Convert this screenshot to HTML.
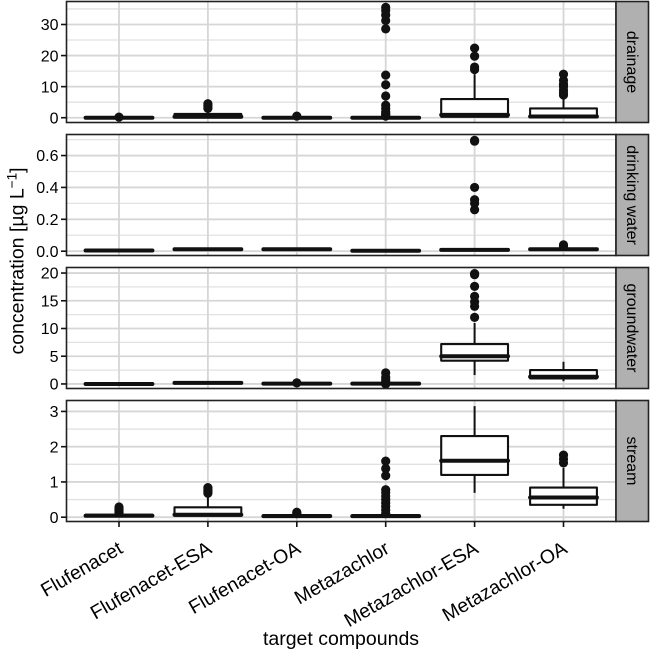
<!DOCTYPE html>
<html lang="en">
<head>
<meta charset="utf-8">
<title>Concentration of target compounds by water type</title>
<style>
html,body{margin:0;padding:0;background:#fff;width:650px;height:650px;overflow:hidden}
svg{display:block;font-family:"Liberation Sans",Arial,sans-serif;filter:blur(0.3px)}
</style>
</head>
<body>
<svg id="chart" xmlns="http://www.w3.org/2000/svg" width="650" height="650" viewBox="0 0 650 650">
<rect x="0" y="0" width="650" height="650" fill="#ffffff"/>
<text transform="translate(23.5,261) rotate(-90)" text-anchor="middle" font-size="19.5" fill="#000">concentration [µg L<tspan font-size="13.5" dy="-7">−1</tspan><tspan dy="7">]</tspan></text>
<text x="341" y="645" text-anchor="middle" font-size="19.5" fill="#000">target compounds</text>
</svg>
<script>
const categories = ["Flufenacet","Flufenacet-ESA","Flufenacet-OA","Metazachlor","Metazachlor-ESA","Metazachlor-OA"];
const facetNames = ["drainage","drinking water","groundwater","stream"];

const drainageTicks = [0,10,20,30];
const drainageMinor = [5,15,25,35];
const drainageLower = [0,0,0,0,0.1,0];
const drainageQ1 = [0,0.05,0,0,0.3,0.15];
const drainageMedian = [0,0.3,0,0,0.9,0.4];
const drainageQ3 = [0.05,1.2,0.05,0.1,6,3];
const drainageUpper = [0.1,2.5,0.1,0.2,14,7];
const drainageOutliers = [[0.2],[3,3.5,4,4.5],[0.5],[0.5,1,1.5,2,3,4,7,10.6,13.7,28.6,31.3,33,34.5,35.5],[15.5,16.3,19.8,22.4],[7.3,8,8.9,10,10.8,12,14],[]];

const drinkingTicks = [0,0.2,0.4,0.6];
const drinkingMinor = [0.1,0.3,0.5,0.7];
const drinkingLower = [0.002,0.01,0.01,0.002,0.005,0.01];
const drinkingQ1 = [0.002,0.01,0.01,0.002,0.005,0.01];
const drinkingMedian = [0.004,0.012,0.012,0.003,0.008,0.012];
const drinkingQ3 = [0.005,0.014,0.014,0.004,0.011,0.014];
const drinkingUpper = [0.006,0.015,0.015,0.005,0.012,0.015];
const drinkingOutliers = [[],[],[],[],[0.26,0.3,0.323,0.4,0.69,0.695],[0.03,0.04]];

const groundwaterTicks = [0,5,10,15,20];
const groundwaterMinor = [2.5,7.5,12.5,17.5];
const groundwaterLower = [0,0.1,0,0,1.6,0.5];
const groundwaterQ1 = [0,0.12,0,0,4.2,1];
const groundwaterMedian = [0,0.2,0.05,0.05,5,1.3];
const groundwaterQ3 = [0.05,0.25,0.12,0.1,7.2,2.5];
const groundwaterUpper = [0.1,0.3,0.15,0.2,11,4];
const groundwaterOutliers = [[],[],[0.2],[0,0.4,0.8,1.2,2],[12,14,14.8,15.8,17.6,19.7,19.9],[]];

const streamTicks = [0,1,2,3];
const streamMinor = [0.5,1.5,2.5];
const streamLower = [0,0.02,0,0,0.69,0.24];
const streamQ1 = [0.02,0.04,0.01,0.01,1.2,0.35];
const streamMedian = [0.04,0.07,0.03,0.03,1.6,0.56];
const streamQ3 = [0.07,0.28,0.06,0.06,2.3,0.84];
const streamUpper = [0.1,0.6,0.08,0.1,3.15,1.4];
const streamOutliers = [[0.13,0.17,0.21,0.25,0.29],[0.68,0.72,0.76,0.8,0.84],[0.1,0.14],[0.1,0.2,0.3,0.4,0.5,0.6,0.7,0.78,1.18,1.38,1.59],[],[1.54,1.65,1.76]];

const facetTicks = [drainageTicks,drinkingTicks,groundwaterTicks,streamTicks];
const facetMinor = [drainageMinor,drinkingMinor,groundwaterMinor,streamMinor];
const facetLower = [drainageLower,drinkingLower,groundwaterLower,streamLower];
const facetQ1 = [drainageQ1,drinkingQ1,groundwaterQ1,streamQ1];
const facetMedian = [drainageMedian,drinkingMedian,groundwaterMedian,streamMedian];
const facetQ3 = [drainageQ3,drinkingQ3,groundwaterQ3,streamQ3];
const facetUpper = [drainageUpper,drinkingUpper,groundwaterUpper,streamUpper];
const facetOutliers = [drainageOutliers,drinkingOutliers,groundwaterOutliers,streamOutliers];
const facetTickDecimals = [0,1,0,0];
const facetDomainMin = [-1.54,-0.027,-0.82,-0.122];
const facetDomainMax = [37.4,0.732,21.0,3.31];

const svgNS = "http://www.w3.org/2000/svg";
const svg = document.getElementById("chart");
const plotLeft = 66.5, plotRight = 616, stripRight = 648.5;
const panelTop = [1.5,134.5,267.5,400.5];
const panelBottom = [122.5,255.5,388.5,521.5];
const firstCategoryX = 119, categoryStep = 88.9, boxHalfWidth = 33.4;

function xScale(i){ return firstCategoryX + i * categoryStep; }
function yScale(p, v){
  const t = (v - facetDomainMin[p]) / (facetDomainMax[p] - facetDomainMin[p]);
  return panelBottom[p] - t * (panelBottom[p] - panelTop[p]);
}
function make(tag, attrs, parent){
  const el = document.createElementNS(svgNS, tag);
  for (const k in attrs) el.setAttribute(k, attrs[k]);
  (parent || svg).appendChild(el);
  return el;
}
function slug(s){ return s.toLowerCase().replace(/[^a-z0-9]+/g, "-"); }

facetNames.forEach(function(name, p){
  const top = panelTop[p], bottom = panelBottom[p];
  const g = make("g", {});
  
  

  facetMinor[p].forEach(function(v){
    if (v > facetDomainMax[p]) return;
    const y = yScale(p, v);
    const l = make("line", {x1:plotLeft,x2:plotRight,y1:y,y2:y,stroke:"#e2e2e2","stroke-width":1.3}, g);
    
    
  });
  facetTicks[p].forEach(function(v){
    const y = yScale(p, v);
    const l = make("line", {x1:plotLeft,x2:plotRight,y1:y,y2:y,stroke:"#d6d6d6","stroke-width":1.8}, g);
    
    
  });
  categories.forEach(function(c, i){
    const x = xScale(i);
    const l = make("line", {x1:x,x2:x,y1:top,y2:bottom,stroke:"#d6d6d6","stroke-width":1.8}, g);
    
    
  });

  categories.forEach(function(c, i){
    const x = xScale(i);
    const id = slug(name) + '-' + slug(c);
    const w = make("line", {x1:x,x2:x,y1:yScale(p, facetUpper[p][i]),y2:yScale(p, facetLower[p][i]),stroke:"#111","stroke-width":2}, g);
    
    

    const yQ3 = yScale(p, facetQ3[p][i]), yQ1 = yScale(p, facetQ1[p][i]);
    const b = make("rect", {x:x-boxHalfWidth,y:yQ3,width:boxHalfWidth*2,height:Math.max(yQ1-yQ3,0.1),fill:"#fff",stroke:"#111","stroke-width":2.1,"stroke-linejoin":"round"}, g);
    
    

    const ym = yScale(p, facetMedian[p][i]);
    const m = make("line", {x1:x-boxHalfWidth,x2:x+boxHalfWidth,y1:ym,y2:ym,stroke:"#111","stroke-width":4,"stroke-linecap":"round"}, g);
    
    

    (facetOutliers[p][i] || []).forEach(function(v){
      const o = make("circle", {cx:x,cy:yScale(p, v),r:4.6,fill:"#111"}, g);
      
      
    });
  });

  const border = make("rect", {x:plotLeft,y:top,width:plotRight-plotLeft,height:bottom-top,fill:"none",stroke:"#222","stroke-width":1.6}, g);
  
  

  const strip = make("rect", {x:plotRight,y:top,width:stripRight-plotRight,height:bottom-top,fill:"#b0b0b0",stroke:"#222","stroke-width":1.6}, g);
  
  

  const cy = (top + bottom) / 2, sx = (plotRight + stripRight) / 2;
  const st = make("text", {transform:"translate(" + (sx-5.5) + "," + cy + ") rotate(90)","text-anchor":"middle","font-size":16,fill:"#000"}, g);
  st.textContent = name;
  
  

  facetTicks[p].forEach(function(v){
    const y = yScale(p, v);
    const t = make("line", {x1:plotLeft-5.5,x2:plotLeft,y1:y,y2:y,stroke:"#111","stroke-width":1.6}, g);
    
    
    const lb = make("text", {x:plotLeft-8,y:y+5.7,"text-anchor":"end","font-size":16,fill:"#000"}, g);
    lb.textContent = v.toFixed(facetTickDecimals[p]);
    
    
  });
});

categories.forEach(function(c, i){
  const x = xScale(i);
  const t = make("line", {x1:x,x2:x,y1:panelBottom[3],y2:panelBottom[3]+5.5,stroke:"#111","stroke-width":1.6});
  
  
  const lb = make("text", {transform:"translate(" + (x+5) + ",552) rotate(-30)","text-anchor":"end","font-size":19.4,fill:"#000"});
  lb.textContent = c;
  
  
});
</script>
</body>
</html>
